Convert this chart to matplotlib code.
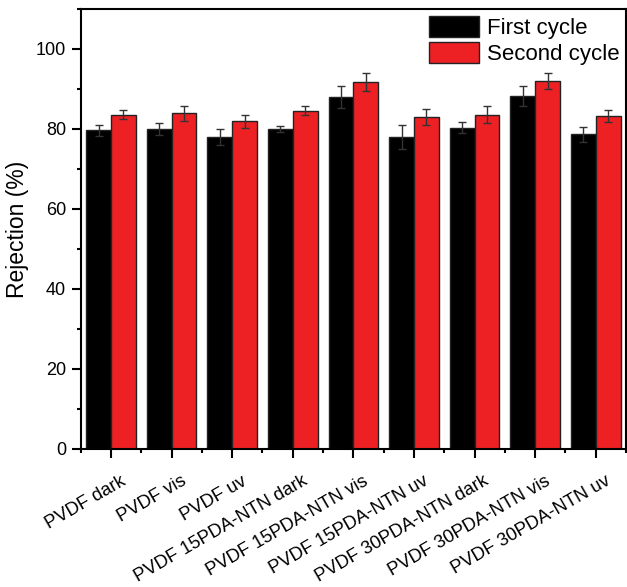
import matplotlib
matplotlib.use("Agg")
import matplotlib.pyplot as plt
import matplotlib.transforms as mtransforms
import numpy as np
from matplotlib.ticker import MultipleLocator, FixedLocator

plt.rcParams['font.family'] = ['Liberation Sans', 'DejaVu Sans']

categories = ["PVDF dark", "PVDF vis", "PVDF uv", "PVDF 15PDA-NTN dark", "PVDF 15PDA-NTN vis",
              "PVDF 15PDA-NTN uv", "PVDF 30PDA-NTN dark", "PVDF 30PDA-NTN vis", "PVDF 30PDA-NTN uv"]
first = [79.7, 80.0, 78.0, 80.0, 88.0, 78.0, 80.3, 88.3, 78.7]
first_err = [1.4, 1.6, 1.9, 0.8, 2.7, 2.9, 1.4, 2.5, 1.9]
second = [83.6, 83.9, 81.9, 84.6, 91.7, 82.9, 83.6, 92.0, 83.2]
second_err = [1.1, 1.8, 1.7, 1.1, 2.3, 2.0, 2.1, 2.0, 1.5]

fig = plt.figure(figsize=(6.27, 5.87), dpi=100)
ax = fig.add_axes([0.1287, 0.2351, 0.8697, 0.7496])

x = np.arange(len(categories))
w = 0.41
red = '#ED2024'
ekw = dict(ecolor='#333333', elinewidth=1.0, capsize=2.6, capthick=1.0)
ax.bar(x - w/2, first, w, color='black', edgecolor='#222222', linewidth=1.0,
       yerr=first_err, error_kw=ekw, label='First cycle')
ax.bar(x + w/2, second, w, color=red, edgecolor='#222222', linewidth=1.0,
       yerr=second_err, error_kw=ekw, label='Second cycle')

ax.set_xlim(-0.5, len(categories) - 0.5)
ax.set_ylim(0, 110)
ax.yaxis.set_major_locator(MultipleLocator(20))
ax.yaxis.set_minor_locator(MultipleLocator(10))
ax.set_xticks(x)
ax.set_xticklabels(categories, rotation=30, ha='right', va='top', rotation_mode='anchor', fontsize=13.2)
ax.xaxis.set_minor_locator(FixedLocator(np.arange(-0.5, len(categories), 1.0)))
ax.tick_params(axis='both', which='major', direction='out', length=6.5, width=1.5)
ax.tick_params(axis='both', which='minor', direction='out', length=3, width=1.5)
ax.tick_params(axis='y', which='major', pad=4, labelsize=13)
ax.tick_params(axis='x', which='major', pad=10.5)
off = mtransforms.ScaledTranslation(6.5 / 72, 0, fig.dpi_scale_trans)
for lab in ax.get_xticklabels():
    lab.set_transform(lab.get_transform() + off)
for s in ax.spines.values():
    s.set_linewidth(1.5)
ax.set_ylabel('Rejection (%)', fontsize=16.5, labelpad=5)

ax.legend(loc='upper right', fontsize=16, frameon=False, handlelength=2.25, handleheight=1.1,
          borderaxespad=0.1, borderpad=0.2, handletextpad=0.35, labelspacing=0.12)

fig.savefig('out.png', dpi=100)
